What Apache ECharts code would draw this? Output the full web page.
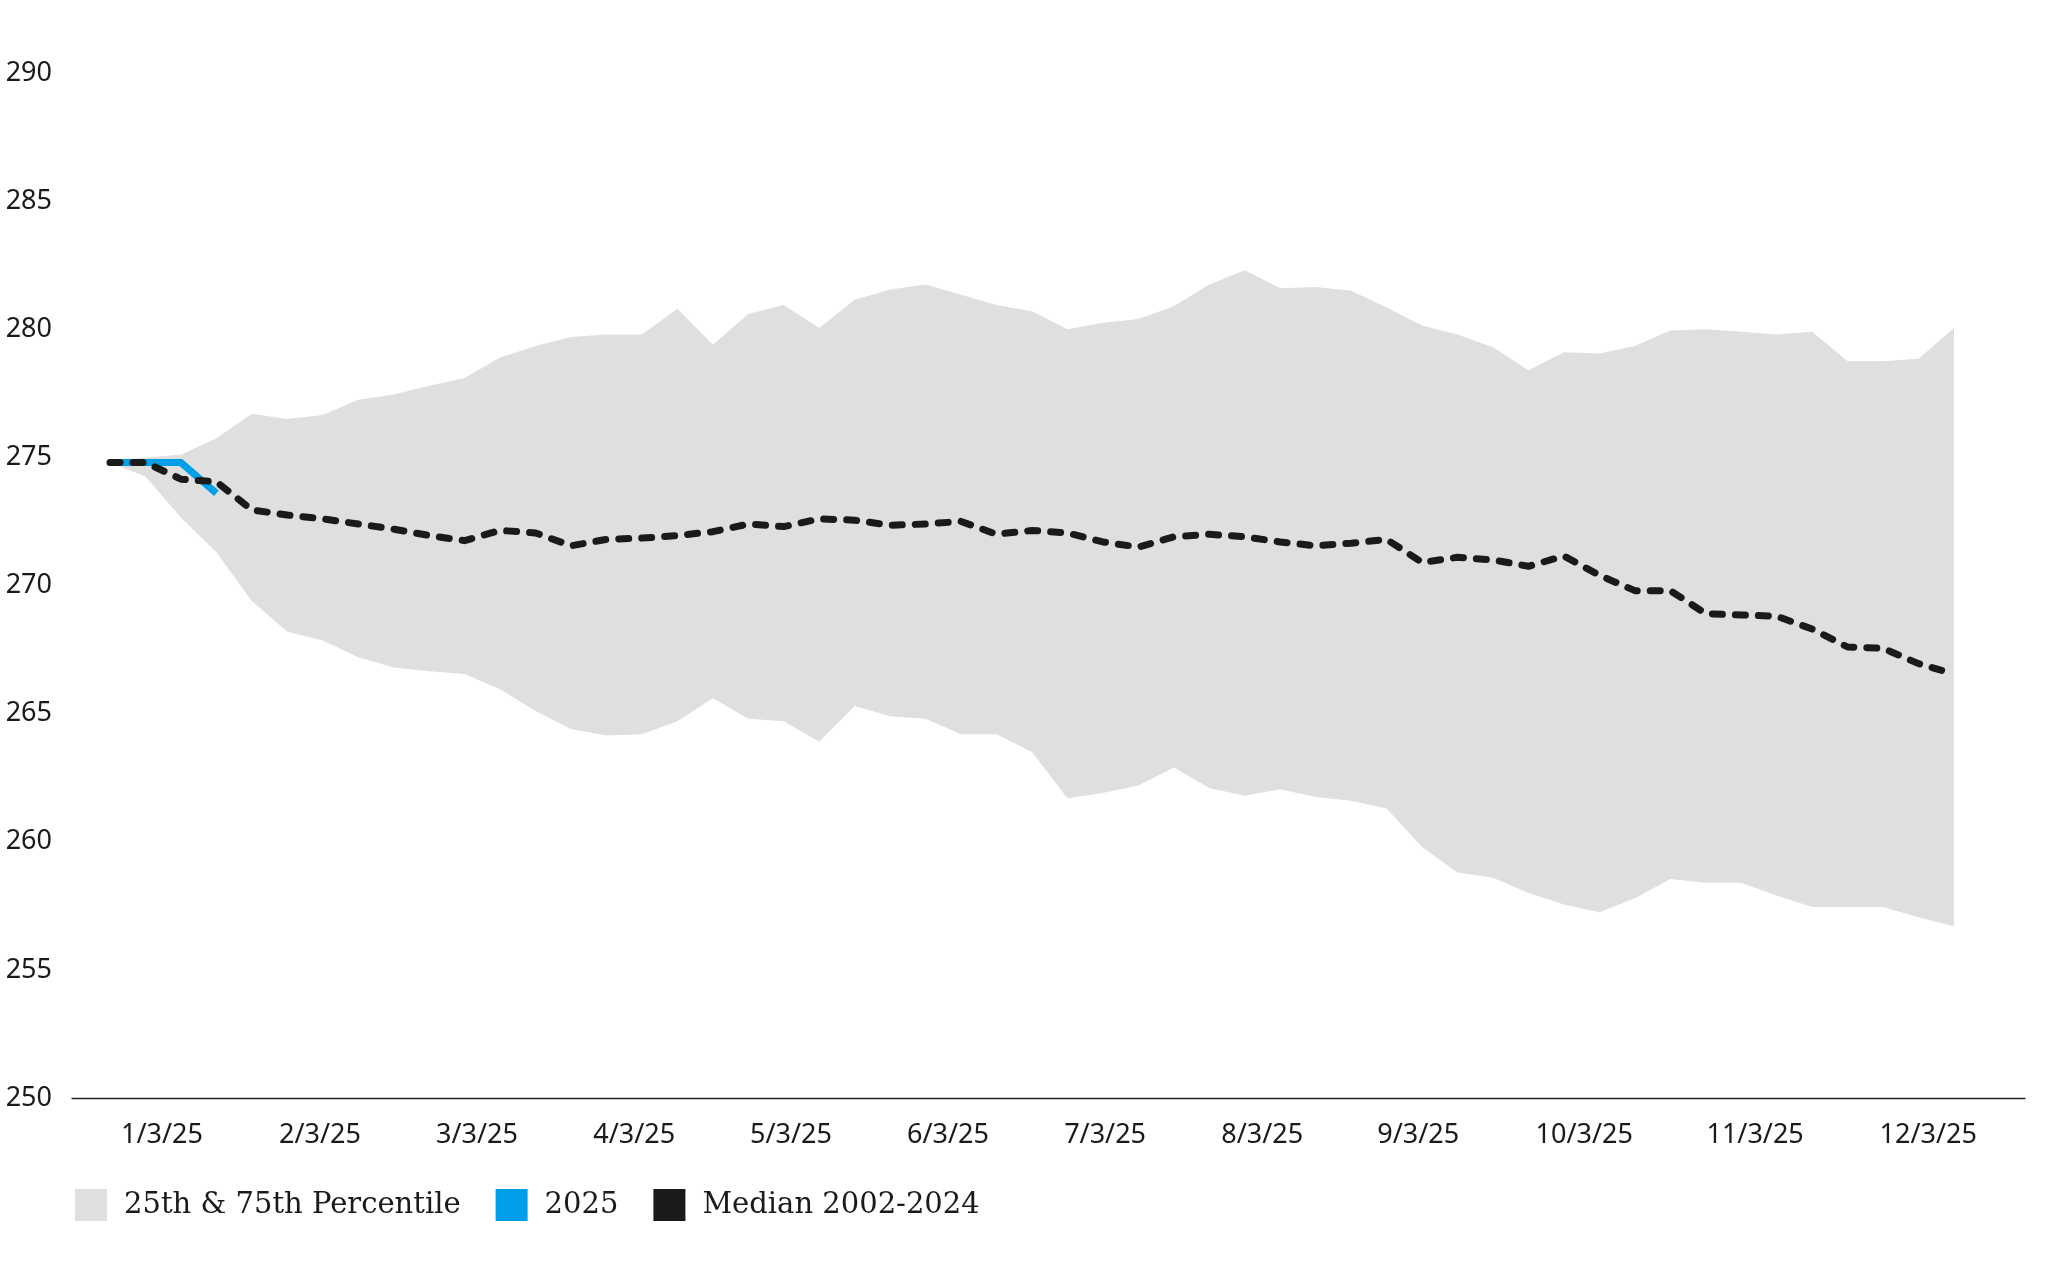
<!DOCTYPE html>
<html>
<head>
<meta charset="utf-8">
<script src="https://cdn.jsdelivr.net/npm/echarts@6/dist/echarts.min.js"></script>
<style>
  html, body { margin: 0; padding: 0; background: #ffffff; }
  #chart { width: 2048px; height: 1265px; }
</style>
</head>
<body>
<div id="chart"></div>
<script>
// Weekly points through the year (53 weeks)
const upper = [274.85, 275.0, 275.1, 275.75, 276.7, 276.5, 276.65, 277.25, 277.45, 277.8,
  278.1, 278.9, 279.35, 279.7, 279.8, 279.8, 280.8, 279.4, 280.6, 280.95,
  280.05, 281.15, 281.55, 281.75, 281.35, 280.95, 280.7, 280.0, 280.25, 280.4,
  280.9, 281.75, 282.3, 281.6, 281.65, 281.5, 280.85, 280.15, 279.8, 279.3,
  278.4, 279.1, 279.05, 279.35, 279.95, 280.0, 279.9, 279.8, 279.9, 278.75,
  278.75, 278.85, 280.05];
const lower = [274.8, 274.25, 272.65, 271.3, 269.4, 268.2, 267.85, 267.2, 266.8, 266.65,
  266.55, 265.95, 265.1, 264.4, 264.15, 264.2, 264.7, 265.6, 264.8, 264.7,
  263.9, 265.3, 264.9, 264.8, 264.2, 264.2, 263.5, 261.7, 261.9, 262.2,
  262.9, 262.1, 261.8, 262.05, 261.75, 261.6, 261.3, 259.8, 258.8, 258.6,
  258.0, 257.55, 257.25, 257.8, 258.55, 258.4, 258.4, 257.9, 257.45, 257.45,
  257.45, 257.05, 256.7];
const median = [274.8, 274.8, 274.15, 274.05, 272.95, 272.75, 272.6, 272.4, 272.2, 271.95,
  271.75, 272.15, 272.05, 271.55, 271.8, 271.85, 271.95, 272.1, 272.4, 272.3,
  272.6, 272.55, 272.35, 272.4, 272.5, 272.0, 272.15, 272.05, 271.7, 271.5,
  271.9, 272.0, 271.9, 271.7, 271.55, 271.65, 271.8, 270.9, 271.1, 271.0,
  270.75, 271.15, 270.4, 269.8, 269.8, 268.9, 268.85, 268.8, 268.3, 267.6,
  267.55, 266.95, 266.55];
const y2025 = [274.8, 274.8, 274.8, 273.6];

// X tick labels and where they sit (in week-index units)
const tickLabels = ['1/3/25', '2/3/25', '3/3/25', '4/3/25', '5/3/25', '6/3/25',
  '7/3/25', '8/3/25', '9/3/25', '10/3/25', '11/3/25', '12/3/25'];
const tickPos = [1.466, 5.922, 10.35, 14.78, 19.20, 23.63, 28.06, 32.49, 36.89, 41.57, 46.39, 51.27];

const legendNames = ['25th & 75th Percentile', '2025', 'Median 2002-2024'];
const colors = { band: '#dfdfdf', y2025: '#009fe8', median: '#1a1a1a' };

const weeks = median.map((_, i) => String(i));
const bandDiff = upper.map((u, i) => +(u - lower[i]).toFixed(3));

const chart = echarts.init(document.getElementById('chart'), null, { renderer: 'canvas' });

const labelFont = { fontFamily: 'Noto Sans', fontSize: 27, color: '#1a1a1a' };

chart.setOption({
  animation: false,
  backgroundColor: '#ffffff',
  grid: [
    { left: 110, right: 94, top: 73, bottom: 167 },
    { left: 72, right: 23, top: 73, bottom: 167 }
  ],
  xAxis: [
    { gridIndex: 0, type: 'category', data: weeks, boundaryGap: false, show: false },
    {
      gridIndex: 1, type: 'value', min: -1.072, max: 54.0,
      axisLine: { show: true, onZero: false, lineStyle: { color: '#222222', width: 1.3 } },
      axisTick: { show: false },
      splitLine: { show: false },
      axisLabel: Object.assign({
        margin: 24,
        customValues: tickPos,
        formatter: function (v) {
          let best = 0, bd = Infinity;
          tickPos.forEach((p, i) => { const d = Math.abs(p - v); if (d < bd) { bd = d; best = i; } });
          return tickLabels[best];
        }
      }, labelFont)
    }
  ],
  yAxis: [
    { gridIndex: 0, type: 'value', min: 250, max: 290, show: false },
    {
      gridIndex: 1, type: 'value', min: 250, max: 290, interval: 5,
      axisLine: { show: false }, axisTick: { show: false }, splitLine: { show: false },
      axisLabel: Object.assign({ margin: 20, padding: [4, 0, 0, 0] }, labelFont)
    }
  ],
  legend: {
    left: 75, top: 1189, padding: 0,
    itemWidth: 32, itemHeight: 32, itemGap: 35,
    selectedMode: false,
    textStyle: { fontFamily: 'DejaVu Serif', fontSize: 29, color: '#1a1a1a', padding: [0, 0, 0, 12] },
    data: [
      { name: legendNames[0], icon: 'rect', itemStyle: { color: colors.band, borderWidth: 0 } },
      { name: legendNames[1], icon: 'rect', itemStyle: { color: colors.y2025, borderWidth: 0 } },
      { name: legendNames[2], icon: 'rect', itemStyle: { color: colors.median, borderWidth: 0 } }
    ]
  },
  series: [
    {
      name: 'lowerBase', type: 'line', xAxisIndex: 0, yAxisIndex: 0,
      stack: 'band', data: lower, symbol: 'none', silent: true,
      lineStyle: { width: 0, opacity: 0 }, z: 1
    },
    {
      name: legendNames[0], type: 'line', xAxisIndex: 0, yAxisIndex: 0,
      stack: 'band', data: bandDiff, symbol: 'none', silent: true,
      itemStyle: { color: colors.band },
      lineStyle: { width: 0, opacity: 0 },
      areaStyle: { color: colors.band, opacity: 1 }, z: 1
    },
    {
      name: legendNames[1], type: 'line', xAxisIndex: 0, yAxisIndex: 0,
      data: y2025, symbol: 'none', silent: true,
      itemStyle: { color: colors.y2025 },
      lineStyle: { color: colors.y2025, width: 7, join: 'miter' }, z: 3
    },
    {
      name: legendNames[2], type: 'line', xAxisIndex: 0, yAxisIndex: 0,
      data: median, symbol: 'none', silent: true,
      itemStyle: { color: colors.median },
      lineStyle: { color: colors.median, width: 7, type: [10, 13], cap: 'round', join: 'round' }, z: 4
    }
  ]
});
</script>
</body>
</html>
